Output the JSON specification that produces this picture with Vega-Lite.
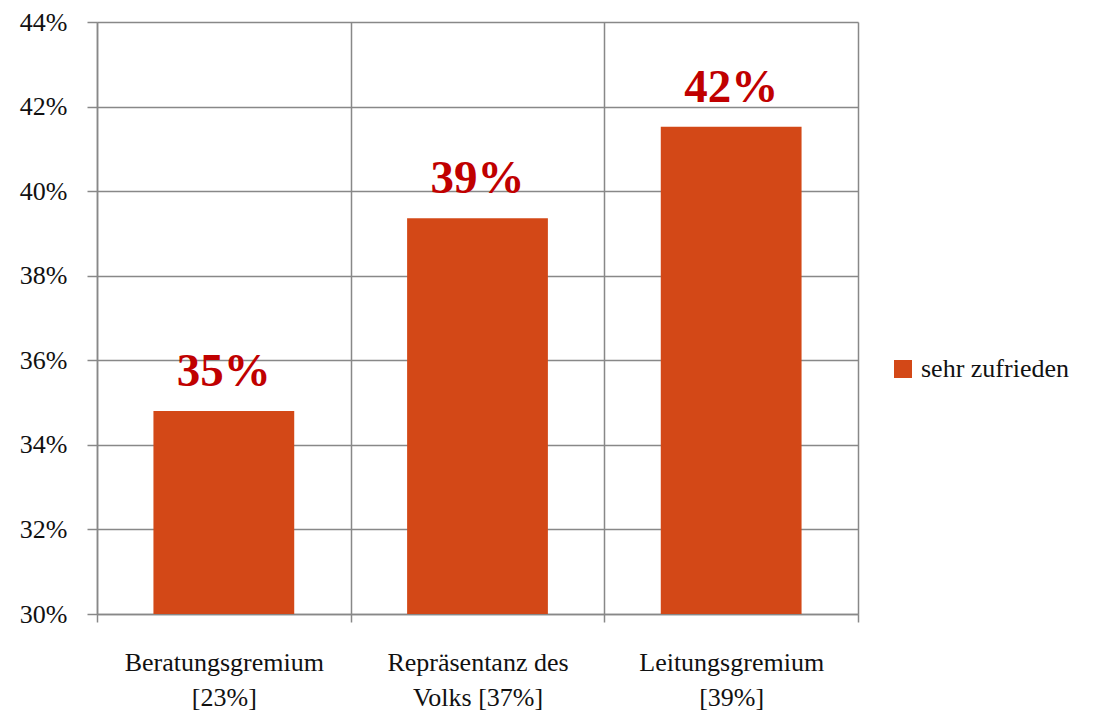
{
  "$schema": "https://vega.github.io/schema/vega-lite/v6.json",
  "width": 761,
  "height": 592,
  "autosize": {"type": "none"},
  "padding": {"left": 97, "top": 22, "right": 241, "bottom": 106},
  "background": "white",
  "config": {
    "view": {"stroke": null}
  },
  "data": {
    "values": [
      {"kategorie": "Beratungsgremium|[23%]", "serie": "sehr zufrieden", "wert": 0.348},
      {"kategorie": "Repräsentanz des|Volks [37%]", "serie": "sehr zufrieden", "wert": 0.3936},
      {"kategorie": "Leitungsgremium|[39%]", "serie": "sehr zufrieden", "wert": 0.4152}
    ]
  },
  "encoding": {
    "x": {
      "field": "kategorie",
      "type": "nominal",
      "sort": null,
      "title": null,
      "scale": {"paddingInner": 0, "paddingOuter": 0},
      "axis": {
        "labelExpr": "split(datum.label, '|')",
        "labelAngle": 0,
        "labelFont": "serif",
        "labelFontSize": 26,
        "labelColor": "#111111",
        "labelLineHeight": 35,
        "labelPadding": 27,
        "labelBaseline": "top",
        "labelLimit": 400,
        "tickBand": "extent",
        "tickSize": 8,
        "tickColor": "#888888",
        "tickWidth": 1.5,
        "grid": true,
        "gridColor": "#888888",
        "gridWidth": 1.5,
        "domainColor": "#888888",
        "domainWidth": 1.5
      }
    },
    "y": {
      "field": "wert",
      "type": "quantitative",
      "title": null,
      "scale": {"domain": [0.30, 0.44], "zero": false, "clamp": true},
      "axis": {
        "values": [0.30, 0.32, 0.34, 0.36, 0.38, 0.40, 0.42, 0.44],
        "format": ".0%",
        "labelFont": "Times New Roman",
        "labelFontSize": 26,
        "labelColor": "#111111",
        "labelPadding": 20,
        "tickSize": 10,
        "tickColor": "#888888",
        "tickWidth": 1.5,
        "gridColor": "#888888",
        "gridWidth": 1.5,
        "domainColor": "#888888",
        "domainWidth": 1.5
      }
    }
  },
  "layer": [
    {
      "mark": {"type": "bar", "color": "#D34817", "width": {"band": 0.555}},
      "encoding": {
        "color": {
          "field": "serie",
          "type": "nominal",
          "scale": {"range": ["#D34817"]},
          "legend": {
            "title": null,
            "orient": "none",
            "legendX": 793,
            "legendY": 334,
            "symbolType": "square",
            "symbolSize": 324,
            "symbolStrokeWidth": 0,
            "symbolOpacity": 1,
            "labelFont": "serif",
            "labelFontSize": 26,
            "labelColor": "#111111",
            "labelOffset": 5
          }
        }
      }
    },
    {
      "mark": {
        "type": "text",
        "font": "Liberation Serif",
        "fontSize": 47,
        "fontWeight": "bold",
        "color": "#C00000",
        "baseline": "alphabetic",
        "dy": -25
      },
      "encoding": {
        "text": {"field": "wert", "type": "quantitative", "format": ".0%"}
      }
    }
  ]
}
